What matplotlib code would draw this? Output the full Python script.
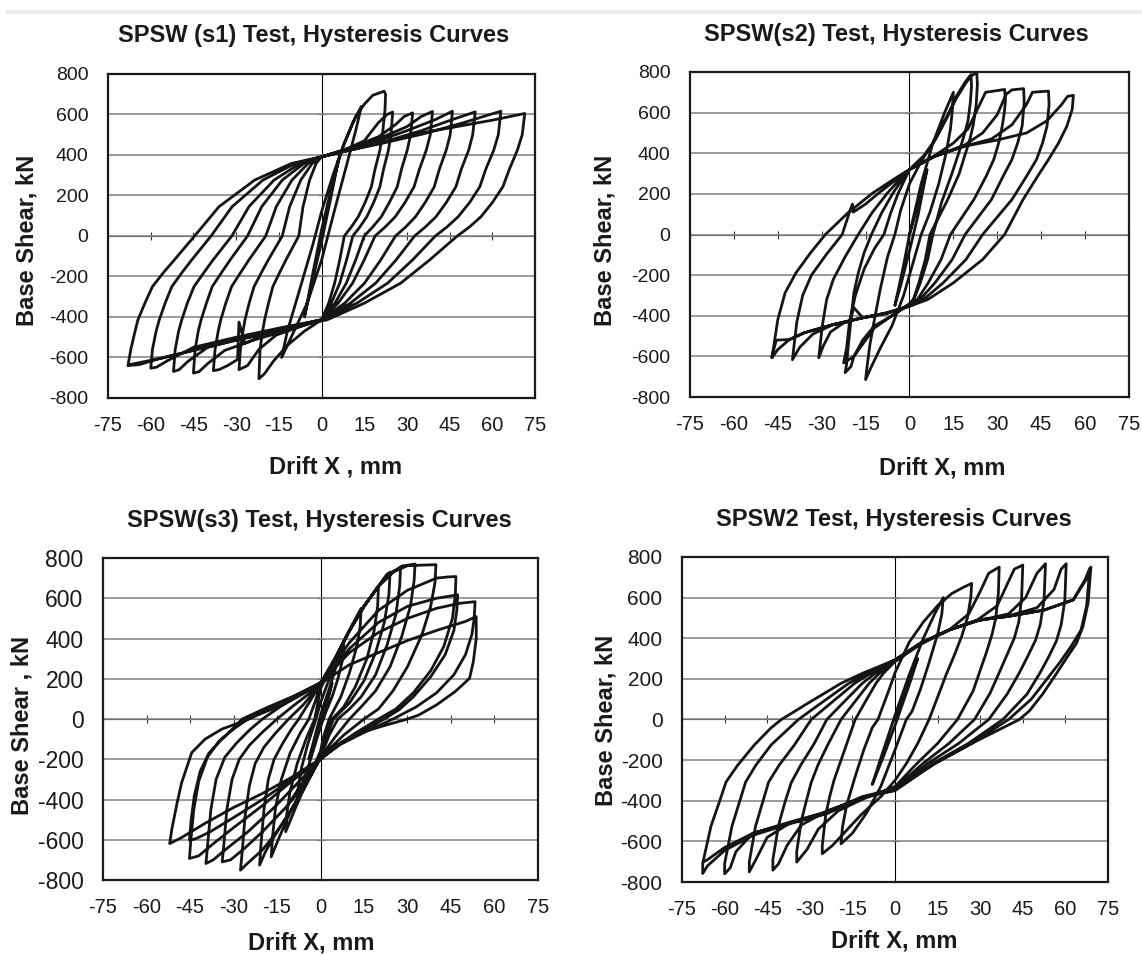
import matplotlib
matplotlib.use("Agg")
import matplotlib.pyplot as plt
from matplotlib.lines import Line2D

plt.rcParams['font.family'] = ['Liberation Sans', 'DejaVu Sans']
plt.rcParams['axes.unicode_minus'] = False

# hysteresis paths, (drift mm, base shear kN)
s1_path = [
    (0, 0), (3, 190), (6, 380), (3, 170), (0, -30), (-3, -210), (-6, -400), (-3, -180), (0, 30),
    (4, 270), (7, 420), (11, 560), (14, 640), (12, 520), (9, 360), (5, 150), (0, -120), (-5, -330),
    (-10, -480), (-14, -600), (-12, -470), (-8, -280), (-3, -40), (0, 120), (4, 300), (8, 460),
    (12, 590), (15, 650), (18, 695), (22, 715), (22.5, 700), (22.3, 625),
    (21.4, 500), (20.5, 424), (18.8, 330), (17.5, 243), (15.3, 165), (12.9, 95), (10.5, 45), (8, 0),
    (6.4, -118), (4.6, -233), (2.5, -332), (0, -414), (-6, -470), (-12, -540), (-17, -620), (-20, -680), (-22, -705),
    (-21.6, -560), (-20.7, -470), (-20, -414), (-18.6, -330), (-17.1, -250), (-14.7, -180), (-12.5, -118), (-8, 0),
    (-6.5, 145), (-4.2, 276), (-1.9, 358), (0, 391), (8, 425), (15, 470), (20, 560), (23, 600), (25, 612),
    (24.4, 500), (23.5, 424), (21.8, 330), (20.5, 243), (18.3, 165), (15.9, 95), (13.5, 45), (11, 0),
    (8.8, -118), (6.4, -233), (3.4, -332), (0, -414), (-8, -450), (-16, -490), (-22, -560), (-26, -640), (-29, -660),
    (-28.5, -560), (-27.6, -470), (-26.9, -414), (-25.4, -330), (-23.7, -250), (-21.1, -180), (-18.7, -118), (-13.8, 0),
    (-11.2, 145), (-7.3, 276), (-3.3, 358), (0, 391), (10, 435), (20, 490), (26, 550), (29, 590), (32, 608),
    (31.3, 500), (30.1, 424), (28.1, 330), (26.6, 243), (23.8, 165), (21, 95), (18, 45), (15, 0),
    (12, -118), (8.7, -233), (4.7, -332), (0, -414), (-10, -450), (-20, -490), (-27, -530), (-29, -425),
    (-29.5, -610), (-33, -640), (-36, -660), (-38, -665),
    (-37.4, -560), (-36.3, -470), (-35.4, -414), (-33.6, -330), (-31.6, -250), (-28.4, -180), (-25.5, -118), (-19.6, 0),
    (-15.9, 145), (-10.4, 276), (-4.7, 358), (0, 391), (10, 430), (20, 480), (30, 540), (35, 590), (39, 615),
    (38.2, 500), (36.8, 424), (34.4, 330), (32.5, 243), (29.3, 165), (25.9, 95), (22.4, 45), (18.8, 0),
    (15, -118), (10.9, -233), (5.8, -332), (0, -414), (-12, -465), (-24, -515), (-34, -565), (-40, -630), (-43, -670), (-45, -677),
    (-44.4, -560), (-43.3, -470), (-42.3, -414), (-40.4, -330), (-38.4, -250), (-35.1, -180), (-32.1, -118), (-26, 0),
    (-21, 145), (-13.8, 276), (-6.2, 358), (0, 391), (10, 428), (20, 470), (30, 520), (40, 575), (46, 616),
    (45.2, 500), (43.8, 424), (41.4, 330), (39.6, 243), (36.4, 165), (33, 95), (29.6, 45), (26, 0),
    (20.8, -118), (15.1, -233), (8.1, -332), (0, -414), (-14, -460), (-28, -505), (-40, -550), (-47, -620), (-50, -660), (-52, -669),
    (-51.4, -560), (-50.2, -470), (-49.1, -414), (-47.1, -330), (-44.8, -250), (-41.3, -180), (-38.1, -118), (-31.5, 0),
    (-25.5, 145), (-16.7, 276), (-7.6, 358), (0, 391), (10, 425), (22, 465), (35, 520), (46, 575), (54, 613),
    (53.1, 500), (51.7, 424), (49.1, 330), (47.2, 243), (43.8, 165), (40.2, 95), (36.5, 45), (32.7, 0),
    (26.2, -118), (19, -233), (10.1, -332), (0, -414), (-15, -455), (-30, -500), (-45, -550), (-54, -615), (-58, -648), (-60, -653),
    (-59.4, -560), (-58.1, -470), (-57, -414), (-54.9, -330), (-52.6, -250), (-49, -180), (-45.6, -118), (-38.8, 0),
    (-31.4, 145), (-20.6, 276), (-9.3, 358), (0, 391), (10, 424), (22, 460), (36, 505), (50, 560), (58, 595), (63, 616),
    (62.1, 500), (60.5, 424), (57.7, 330), (55.6, 243), (52, 165), (48, 95), (44.1, 45), (40, 0),
    (32, -118), (23.2, -233), (12.4, -332), (0, -414), (-15, -462), (-30, -515), (-45, -565), (-58, -610), (-64, -635), (-68, -640),
    (-67, -560), (-65.5, -470), (-64.5, -414), (-62, -330), (-59.4, -250), (-55.5, -180), (-51.7, -118), (-44.6, 0),
    (-36, 145), (-23.5, 276), (-10.6, 358), (0, 391), (9.9, 424), (20, 457), (34, 506), (47, 539), (60, 572), (71.4, 605),
    (70.5, 500), (68.8, 424), (66, 330), (63.7, 243), (60, 165), (56, 95), (52, 45), (47.7, 0),
    (38, -118), (27.8, -233), (15, -332), (2, -414), (-10.6, -447), (-23.5, -496), (-36, -529), (-49, -579), (-59, -611), (-67.7, -636),
]

s2_path = [
    (0, 0), (3, 150), (6, 320), (3, 100), (0, -80), (-3, -250), (-5, -350), (-2, -150), (0, 0),
    (4, 250), (8, 450), (12, 600), (15, 700),
    (14.7, 620), (14, 520), (12.5, 400), (10, 250), (7, 110), (4, 0), (1, -150), (-2, -300), (-6, -450),
    (-10, -560), (-13, -650), (-15, -714),
    (-14.5, -650), (-13.5, -540), (-12, -420), (-10, -270), (-7.5, -110), (-5, 0), (-3, 120), (0, 250),
    (4, 360), (8, 450), (12, 560), (16, 670), (19, 740), (21, 780), (23, 797),
    (23.2, 740), (22.8, 640), (21.8, 540), (20.5, 460), (18.7, 380), (17, 300), (13, 170), (7, 0),
    (5.4, -123), (3.2, -238), (1.3, -320), (0, -340), (-6, -400), (-12, -460), (-16, -540), (-19, -600), (-22.5, -632),
    (-21.5, -560), (-20.5, -430), (-18.5, -300), (-15.5, -170), (-12, -70), (-8.75, 0), (-6.4, 107), (-3.8, 205),
    (-1.1, 287), (0, 320), (5, 390), (9, 470), (13, 580), (16, 680), (19, 750), (21, 787),
    (21.2, 730), (20.8, 650), (20, 560), (18.5, 480), (16.8, 400), (14.5, 300), (11, 160), (8, 0),
    (6.2, -123), (3.7, -238), (1.5, -320), (0, -345), (-6, -400), (-12, -450), (-16, -520), (-19, -600),
    (-20, -650), (-22, -680), (-21.5, -640),
    (-21, -560), (-20, -420), (-19, -287), (-17.5, -189), (-15.5, -90), (-13, 0), (-9.5, 107), (-5.6, 205),
    (-1.7, 287), (0, 320), (8.8, 390), (15, 450), (20, 520), (24, 640), (26, 700), (32.5, 714),
    (32.8, 660), (32.4, 600), (31.7, 534), (30.5, 452), (28.8, 369), (26.2, 287), (22, 172), (14, 0),
    (10.8, -123), (6.4, -238), (2.7, -320), (0, -350), (-8, -390), (-16, -410), (-22, -430), (-27, -480),
    (-29.5, -550), (-31, -607),
    (-29.8, -450), (-28.3, -320), (-26, -220), (-22, -110), (-17.5, 0), (-12.8, 107), (-7.5, 205),
    (-2.3, 287), (0, 320), (8.8, 386), (18.8, 440), (25, 500), (30, 590), (33, 690), (35, 712), (39, 718),
    (39.2, 650), (38.5, 534), (37, 452), (35, 369), (32, 287), (28, 172), (19, 0),
    (14.6, -123), (8.7, -238), (3.6, -320), (0, -352), (-8, -386), (-16, -410), (-19, -360), (-20.5, -430),
    (-26, -443), (-33, -490), (-37.5, -555), (-40, -616),
    (-38.5, -430), (-36.5, -300), (-33.5, -200), (-28.5, -100), (-23, 0), (-20.5, 110), (-19.5, 150),
    (-19.2, 110), (-15, 150), (-10, 210), (-3, 287), (0, 320), (8.8, 386), (18.8, 435), (28, 470),
    (35, 540), (40, 640), (42, 700), (47.5, 706),
    (47.7, 640), (47, 534), (45.5, 452), (43.4, 369), (40, 287), (35, 172), (25, 0),
    (19.3, -123), (11.5, -238), (4.8, -320), (0, -353), (-7.5, -386), (-16, -410), (-26, -443), (-36, -484),
    (-41, -517), (-45, -566), (-47, -607),
    (-45, -419), (-42.5, -287), (-38.8, -189), (-33.8, -90), (-28.75, 0), (-21, 107), (-12.5, 205),
    (-3.75, 287), (0, 320), (8.8, 386), (18.8, 435), (30, 465), (40, 500), (47, 560), (52, 640), (54, 680), (56, 685),
    (55.6, 616), (53.8, 534), (51, 452), (47.5, 369), (43.8, 287), (38.8, 172), (32.5, 0),
    (25, -123), (15, -238), (6.25, -320), (0, -353), (-7.5, -386), (-16, -410), (-26, -443), (-36, -484),
    (-41, -517), (-45.5, -520), (-47, -600),
]

s3_path = [
    (0, 0), (2, 80), (4, 180), (2, 60), (0, -20), (-2, -110), (-4, -200), (-2, -90), (0, 20),
    (3, 150), (6, 290), (8, 380), (7.7, 300), (6, 200), (4, 110), (2, 40), (0, -40), (-3, -180), (-6, -320), (-8, -420),
    (-7.7, -340), (-6.5, -240), (-4.5, -130), (-2, -20), (0, 80), (3, 200), (7, 350), (11, 470), (14, 550),
    (13.7, 460), (12.5, 360), (10, 230), (7, 110), (3, 0), (1, -90), (0, -160), (-4, -290), (-8, -420), (-12, -560),
    (-11.6, -470), (-10.5, -360), (-8, -220), (-5, -100), (-2, 0), (0, 150), (5, 300), (10, 440), (15, 560),
    (18, 620), (20, 660),
    (19.7, 560), (18.5, 440), (16, 300), (12, 160), (8, 60), (4, 0), (1, -120), (0, -190), (-5, -320),
    (-10, -450), (-14, -580), (-17, -685),
    (-16.5, -580), (-15.5, -440), (-13.5, -300), (-10.5, -170), (-7, -70), (-4, 0), (-1.5, 100), (0, 175),
    (5, 300), (10, 440), (15, 560), (20, 660), (22, 700), (24, 730),
    (23.6, 620), (22, 480), (19, 330), (15, 190), (10, 80), (4.5, 0), (1, -120), (0, -190), (-5, -320),
    (-10, -450), (-15, -560), (-19, -660), (-21, -726),
    (-20.5, -620), (-19.5, -450), (-18, -300), (-16, -200), (-13, -120), (-10, -50), (-7.5, 0), (-4, 80),
    (-1.5, 140), (0, 175), (5, 300), (10, 440), (15, 560), (20, 660), (23, 720), (27.6, 750),
    (27.3, 660), (26, 520), (23, 370), (19, 220), (14, 110), (10, 50), (6, 0), (3, -80), (0, -190),
    (-5, -330), (-10, -450), (-15, -560), (-20, -650), (-25, -715), (-27.6, -751),
    (-27, -660), (-26, -480), (-24.5, -330), (-22.5, -220), (-19.5, -140), (-15.5, -70), (-11, 0), (-6, 70),
    (-2.5, 130), (0, 175), (5, 300), (10, 440), (15, 560), (20, 660), (25, 730), (28, 760), (32.6, 770),
    (32.3, 690), (31, 560), (28, 410), (24, 260), (19, 140), (14, 60), (10, 0), (5, -90), (2, -150), (0, -195),
    (-5, -320), (-12, -440), (-20, -560), (-26, -640), (-31, -700), (-33.9, -710),
    (-33.3, -620), (-32.3, -450), (-30.5, -300), (-28, -200), (-24.5, -130), (-20, -65), (-15, 0), (-9, 70),
    (-4, 125), (0, 175), (5, 300), (10, 440), (15, 560), (20, 660), (25, 730), (30, 762), (39.8, 767),
    (39.5, 680), (38, 560), (35, 420), (30, 260), (25, 140), (20, 50), (15, 0), (8, -80), (3, -150), (0, -200),
    (-8, -320), (-16, -440), (-25, -560), (-32, -640), (-37, -700), (-39.5, -718),
    (-38.9, -620), (-37.8, -450), (-36, -300), (-33, -190), (-29, -120), (-24.5, -55), (-20, 0), (-13, 70),
    (-6, 130), (0, 180), (10, 380), (20, 540), (30, 640), (40, 700), (44, 706), (46.7, 708),
    (46.5, 620), (45.5, 500), (42.5, 360), (38, 240), (32, 130), (26, 50), (20, 0), (12, -70), (5, -140), (0, -200),
    (-10, -310), (-20, -430), (-30, -540), (-37, -620), (-42, -680), (-45.2, -693),
    (-44.7, -600), (-43.7, -450), (-42, -310), (-39, -190), (-35, -110), (-30, -50), (-25, 0), (-17, 60),
    (-8, 120), (0, 180), (10, 350), (20, 480), (30, 560), (40, 600), (45, 612), (47.3, 617),
    (47, 540), (46, 440), (43, 320), (38, 210), (32, 110), (27, 45), (22, 0), (14, -65), (6, -130), (0, -200),
    (-10, -300), (-20, -400), (-30, -490), (-38, -560), (-43, -595), (-45.2, -602),
    (-44.6, -500), (-43.5, -380), (-41.5, -260), (-38.5, -170), (-34, -100), (-30, -45), (-27, 0), (-18, 60),
    (-9, 115), (0, 180), (10, 330), (20, 430), (30, 500), (40, 550), (48, 575), (53.3, 583),
    (53, 500), (52.2, 420), (50, 320), (46, 220), (40, 130), (33, 60), (25, 0), (16, -60), (7, -125), (0, -198),
    (-10, -290), (-20, -370), (-30, -440), (-40, -520), (-48, -590), (-52, -619),
    (-51.3, -550), (-49.5, -420), (-47.9, -317), (-44.4, -167), (-39.8, -100), (-34, -50), (-26, -8), (-20, 30),
    (-13, 70), (-6, 125), (0, 177), (10, 270), (20, 330), (30, 390), (40, 440), (50, 485), (53.7, 509),
    (53.7, 400), (52.7, 285), (51.4, 202), (46.4, 136), (40, 70), (33.9, 20), (30, 0), (22.6, -30), (15, -63),
    (7.5, -113), (2.5, -163), (0, -196), (-5, -290), (-10, -400),
]

s4_path = [
    (0, 0), (4, 160), (8, 300), (5, 170), (0, -30), (-4, -180), (-8, -320), (-5, -190), (0, 20),
    (5, 220), (10, 400), (14, 520), (17, 600),
    (16.5, 520), (15, 420), (12, 280), (9, 150), (6, 40), (4, 0), (0, -150), (-5, -330), (-10, -460),
    (-15, -560), (-19, -612),
    (-18.5, -530), (-17, -420), (-14, -280), (-11, -150), (-8, -40), (-6, 0), (-2, 150), (0, 230),
    (5, 380), (10, 480), (15, 560), (20, 620), (24, 650), (27, 670),
    (26.7, 600), (25.5, 500), (23.5, 410), (21, 320), (18, 220), (15, 110), (12, 0), (8, -118), (4, -217),
    (0, -300), (-5, -380), (-12, -470), (-18, -560), (-22, -620), (-25.6, -661),
    (-25.6, -620), (-24.4, -470), (-23, -380), (-21.5, -300), (-19.5, -220), (-17, -120), (-14, 0), (-10.8, 79),
    (-6.7, 178), (-4.1, 227), (0, 285), (9, 370), (19, 440), (26, 520), (30, 630), (33, 720), (36.7, 750),
    (36.4, 620), (35.5, 500), (34.2, 420), (32.2, 330), (30.2, 250), (27.5, 140), (22, 0), (15, -118),
    (7.7, -217), (0, -330), (-11, -390), (-20, -450), (-27, -540), (-31, -640), (-34.6, -702),
    (-34.6, -650), (-33, -500), (-31.2, -400), (-29.5, -310), (-27, -220), (-23.5, -120), (-19, 0), (-14.6, 79),
    (-9.1, 178), (-5.5, 227), (0, 290), (9, 375), (19, 440), (29, 490), (36, 560), (40, 680), (42, 740), (45, 760),
    (44.6, 600), (43.6, 480), (42, 400), (39.5, 320), (37, 240), (33.5, 130), (28, 0), (19, -118), (9.8, -217),
    (0, -340), (-11, -385), (-24, -450), (-33, -520), (-38, -620), (-41, -710), (-43, -742),
    (-43, -690), (-41, -520), (-38.7, -405), (-36.5, -310), (-33, -220), (-28.5, -120), (-24, 0), (-18.5, 79),
    (-11.5, 178), (-7, 227), (0, 290), (9, 375), (19, 440), (29, 485), (40, 520), (46, 600), (50, 720), (53, 767),
    (52.5, 590), (51.2, 470), (49.5, 390), (46.7, 310), (43.8, 230), (39.5, 125), (33, 0), (22.4, -118),
    (11.5, -217), (0, -345), (-11.5, -385), (-24, -455), (-37, -510), (-45, -580), (-49, -690), (-51.3, -750),
    (-51.3, -700), (-49.1, -525), (-46.6, -408), (-44.5, -308), (-40.8, -225), (-35.4, -125), (-29.5, 0),
    (-22.7, 79), (-14.2, 178), (-8.6, 227), (0, 292), (9, 375), (19, 441), (29.5, 488), (40, 510), (50, 550),
    (56, 640), (58.5, 740), (60.3, 767),
    (59.8, 585), (58.5, 465), (56.8, 385), (54, 305), (51, 228), (46.5, 125), (38, 0), (25.8, -118),
    (13.3, -217), (0, -348), (-11.5, -385), (-24, -460), (-37, -510), (-50, -560), (-56, -650), (-58, -730), (-60, -760),
    (-60, -710), (-57.4, -525), (-54.8, -408), (-52.6, -308), (-49, -225), (-43.6, -125), (-34, 0), (-26.2, 79),
    (-16.3, 178), (-9.9, 227), (0, 293), (9, 375), (19, 441), (29.5, 490), (39.7, 507), (52.6, 539),
    (62.8, 589), (68, 704), (69, 750),
    (68, 575), (66.2, 458), (63.9, 375), (60.3, 300), (56.8, 225), (52, 125), (47.3, 42), (43.8, 0),
    (27, -118), (14, -217), (0, -350), (-11.5, -382), (-24, -464), (-37, -513), (-50, -570), (-60, -645),
    (-66, -720), (-67.7, -758),
    (-67.7, -708), (-64.8, -525), (-61.9, -408), (-59.5, -308), (-55.4, -225), (-49.5, -125), (-43.7, -42),
    (-40, 0), (-30.8, 79), (-19, 178), (-11.5, 227), (0, 293), (9, 375), (19, 441), (29.5, 490), (39.7, 507),
    (52.6, 539), (62.8, 589), (67, 690), (68.6, 745),
    (67.5, 560), (65.5, 440), (62, 360), (58, 280), (53, 190), (48, 100), (40, 0), (27, -118), (14, -217),
    (0, -340), (-11.5, -380), (-24, -455), (-37, -505), (-50, -560), (-60, -630), (-66, -690), (-67.3, -700),
]

titles = ["SPSW (s1) Test, Hysteresis Curves", "SPSW(s2) Test, Hysteresis Curves",
          "SPSW(s3) Test, Hysteresis Curves", "SPSW2 Test, Hysteresis Curves"]
xlabels = ["Drift X , mm", "Drift X, mm", "Drift X, mm", "Drift X, mm"]
ylabels = ["Base Shear, kN", "Base Shear, kN", "Base Shear , kN", "Base Shear, kN"]
drift_ticks = list(range(-75, 76, 15))
shear_ticks = list(range(-800, 801, 200))

# panel boxes in figure fractions, and where the texts sit (axes fractions)
boxes = [[0.0946, 0.5837, 0.3739, 0.3389], [0.6042, 0.5847, 0.3844, 0.3400],
         [0.0902, 0.0795, 0.3809, 0.3368], [0.5972, 0.0774, 0.3730, 0.3400]]
title_xy = [(0.482, 1.12), (0.469, 1.114), (0.497, 1.118), (0.498, 1.114)]
xlab_xy = [(0.532, -0.213), (0.574, -0.218), (0.478, -0.196), (0.498, -0.182)]
ylab_xy = [(-0.19, 0.485), (-0.194, 0.483), (-0.186, 0.48), (-0.178, 0.498)]
ytick_size = [14, 14, 16.5, 15]

fig = plt.figure(figsize=(11.42, 9.56), dpi=100)
fig.add_artist(Line2D([0.007, 1.0], [0.987, 0.987], color='#ececec', lw=3))

paths = [s1_path, s2_path, s3_path, s4_path]
for i in range(4):
    ax = fig.add_axes(boxes[i])
    x, y = zip(*paths[i])
    ax.plot(x, y, color='#151515', lw=2.0, solid_joinstyle='round', zorder=3)

    ax.set_xlim(-75, 75)
    ax.set_ylim(-800, 800)
    ax.set_xticks(drift_ticks)
    ax.set_yticks(shear_ticks)
    ax.tick_params(axis='x', length=0, pad=13, labelsize=14.5, colors='#1a1a1a')
    ax.tick_params(axis='y', length=0, pad=14, labelsize=ytick_size[i], colors='#1a1a1a')
    ax.yaxis.grid(True, color='#8a8a8a', lw=1.2)
    ax.set_axisbelow(True)
    for sp in ax.spines.values():
        sp.set_color('#1a1a1a')
        sp.set_linewidth(1.6)

    # axes crossing at zero, Excel style, ticks only
    zx = ax.secondary_xaxis(0.5)
    zx.set_xticks(drift_ticks)
    zx.set_xticklabels([])
    zx.tick_params(direction='inout', length=6, width=0.8, color='#333333')
    zx.spines['bottom'].set_linewidth(0.9)
    zx.spines['bottom'].set_color('#111111')
    zy = ax.secondary_yaxis(0.5)
    zy.set_yticks(shear_ticks)
    zy.set_yticklabels([])
    zy.tick_params(direction='inout', length=6, width=0.8, color='#333333')
    zy.spines['left'].set_linewidth(0.9)
    zy.spines['left'].set_color('#111111')

    ax.set_title(titles[i], x=title_xy[i][0], y=title_xy[i][1], va='center', pad=0,
                 fontsize=17, fontweight='bold', color='#1a1a1a')
    ax.set_xlabel(xlabels[i], fontsize=17, fontweight='bold', color='#1a1a1a', va='center')
    ax.xaxis.set_label_coords(*xlab_xy[i])
    ax.set_ylabel(ylabels[i], fontsize=17, fontweight='bold', color='#1a1a1a', va='center')
    ax.yaxis.set_label_coords(*ylab_xy[i])

fig.savefig("out.png", dpi=100)
